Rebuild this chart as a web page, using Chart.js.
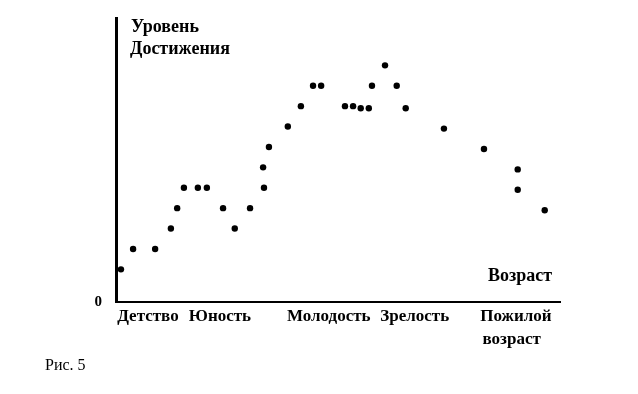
<!DOCTYPE html>
<html>
<head>
<meta charset="utf-8">
<script src="https://cdn.jsdelivr.net/npm/chart.js@4"></script>
<style>
  html, body { margin: 0; padding: 0; background: #fff; }
</style>
</head>
<body>
<canvas id="chart" width="638" height="394"></canvas>
<script>
// ---- データ ----
// x: возраст (условная шкала), y: уровень достижения (условные единицы)
const ageX = [1.1, 3.8, 8.7, 12.2, 13.6, 15.1, 18.2, 20.2, 23.8, 26.4, 29.8, 32.7, 32.9, 34.0,
  38.2, 41.1, 43.8, 45.6, 50.9, 52.7, 54.4, 56.2, 56.9, 59.8, 62.4, 64.4, 72.9, 81.8, 89.3, 89.3, 95.3];
const levelY = [1.6, 2.6, 2.6, 3.6, 4.6, 5.6, 5.6, 5.6, 4.6, 3.6, 4.6, 6.6, 5.6, 7.6,
  8.6, 9.6, 10.6, 10.6, 9.6, 9.6, 9.5, 9.5, 10.6, 11.6, 10.6, 9.5, 8.5, 7.5, 6.5, 5.5, 4.5];

const periodPos = [7.1, 23.1, 47.3, 66.4, 88.9];
const periodLabels = ["Детство", "Юность", "Молодость", "Зрелость", ["Пожилой", "возраст  "]];

const yTitle = ["Уровень", "Достижения"];
const xTitle = "Возраст";
const caption = "Рис. 5";

const SERIF = "'Liberation Serif', 'Times New Roman', serif";

// ---- подписи ----
const textPlugin = {
  id: "texts",
  afterDraw(chart) {
    const { ctx, chartArea } = chart;
    ctx.save();
    ctx.fillStyle = "#000";
    ctx.textBaseline = "alphabetic";
    ctx.textAlign = "left";
    ctx.font = `bold 18px ${SERIF}`;
    ctx.fillText(yTitle[0], chartArea.left + 15, 32);
    ctx.fillText(yTitle[1], chartArea.left + 14, 54);
    ctx.fillText(xTitle, chartArea.left + 372, 281);
    ctx.font = `16px ${SERIF}`;
    ctx.fillText(caption, 45, 370);
    ctx.restore();
  }
};

const points = ageX.map((x, i) => ({ x, y: levelY[i] }));

new Chart(document.getElementById("chart"), {
  type: "scatter",
  data: {
    datasets: [{
      data: points,
      pointRadius: 3.2,
      pointBackgroundColor: "#000",
      pointBorderWidth: 0
    }]
  },
  options: {
    responsive: false,
    animation: false,
    devicePixelRatio: 1,
    layout: { padding: { top: 18, right: 78, left: 0, bottom: 0 } },
    plugins: { legend: { display: false }, tooltip: { enabled: false } },
    scales: {
      x: {
        type: "linear",
        min: 0, max: 98.7,
        afterFit: (s) => { s.height = 92; s.paddingLeft = 0; s.paddingRight = 0; },
        afterBuildTicks: (s) => { s.ticks = periodPos.map(v => ({ value: v })); },
        grid: { display: false, drawTicks: false },
        border: { display: true, color: "#000", width: 2 },
        ticks: {
          autoSkip: false,
          maxRotation: 0,
          padding: 4,
          color: "#000",
          font: { family: SERIF, size: 17, weight: "bold", lineHeight: 1.3 },
          callback: (v, i) => periodLabels[i]
        }
      },
      y: {
        type: "linear",
        min: 0, max: 13.92,
        afterFit: (s) => { s.width = 116; s.paddingTop = 0; s.paddingBottom = 0; },
        afterBuildTicks: (s) => { s.ticks = [{ value: 0 }]; },
        grid: { display: false, drawTicks: false },
        border: { display: true, color: "#000", width: 3 },
        ticks: {
          padding: 14,
          color: "#000",
          font: { family: SERIF, size: 15, weight: "bold" },
          callback: () => "0"
        }
      }
    }
  },
  plugins: [textPlugin]
});
</script>
</body>
</html>
